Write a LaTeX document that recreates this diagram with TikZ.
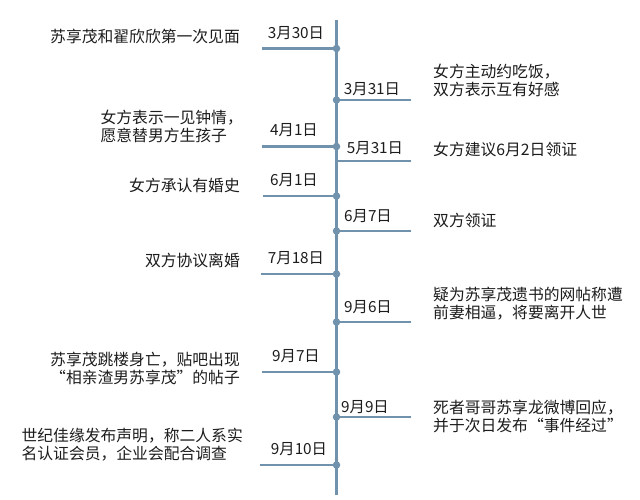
\documentclass[tikz,border=0pt]{standalone}
\definecolor{lineblue}{RGB}{112,146,172}
\definecolor{textgray}{RGB}{28,28,28}
\usepackage{fontspec}
\setmainfont{Noto Sans CJK SC}
\usepackage{tikz}

\newcommand{\datefont}{\fontsize{15.3}{18}\selectfont}
\newcommand{\eventfont}{\fontsize{15.8}{18}\selectfont}

\begin{document}
\begin{tikzpicture}[x=1pt,y=-1pt]

%
% Styles
%
\tikzstyle{timeline}  = [draw=lineblue,line width=2.3pt]
\tikzstyle{branch}    = [draw=lineblue,line width=2.3pt]
\tikzstyle{eventdot}  = [circle,fill=lineblue,inner sep=0pt,minimum size=7.5pt]
\tikzstyle{datelabel} = [font=\datefont,text=textgray,inner sep=0pt]
\tikzstyle{eventtext} = [font=\eventfont,text=textgray,inner sep=0pt]

\useasboundingbox (0,0) rectangle (640,500);

% axis
\coordinate (top) at (336.5,20);
\coordinate (bottom) at (336.5,495);
\draw[timeline] (top) -- (bottom);

% points on the axis and ends of the branches
\coordinate (p1)  at (336.5,48.5);  \coordinate (e1)  at (262,48.5);
\coordinate (p2)  at (336.5,100);   \coordinate (e2)  at (411,100);
\coordinate (p3)  at (336.5,146.5); \coordinate (e3)  at (262,146.5);
\coordinate (p4)  at (336.5,161);   \coordinate (e4)  at (411,161);
\coordinate (p5)  at (336.5,196);   \coordinate (e5)  at (263,196);
\coordinate (p6)  at (336.5,231);   \coordinate (e6)  at (411,231);
\coordinate (p7)  at (336.5,274);   \coordinate (e7)  at (261,274);
\coordinate (p8)  at (336.5,322);   \coordinate (e8)  at (411,322);
\coordinate (p9)  at (336.5,372);   \coordinate (e9)  at (262,372);
\coordinate (p10) at (336.5,417);   \coordinate (e10) at (411,417);
\coordinate (p11) at (336.5,465);   \coordinate (e11) at (260,465);

\foreach \i in {1,...,11}
  \draw[branch] (p\i) -- (e\i);

\foreach \i in {1,2,3,5,6,7,8,9,10,11}
  \node[eventdot] (dot\i) at (p\i) {};

% dates
\node[datelabel] (date1)  at (296,33)  {3月30日};
\node[datelabel] (date2)  at (372,89)  {3月31日};
\node[datelabel] (date3)  at (294,130) {4月1日};
\node[datelabel] (date4)  at (375,148) {5月31日};
\node[datelabel] (date5)  at (294,180) {6月1日};
\node[datelabel] (date6)  at (368,216) {6月7日};
\node[datelabel] (date7)  at (296,258) {7月18日};
\node[datelabel] (date8)  at (368,307) {9月6日};
\node[datelabel] (date9)  at (296,356) {9月7日};
\node[datelabel] (date10) at (365,407) {9月9日};
\node[datelabel] (date11) at (299,449) {9月10日};

% events
\node[eventtext,anchor=east] (ev1) at (240,36) {苏享茂和翟欣欣第一次见面};
\node[eventtext,anchor=west,align=left] (ev2) at (433,80)
  {女方主动约吃饭，\\双方表示互有好感};
\node[eventtext,anchor=east,align=left] (ev3) at (243,126)
  {女方表示一见钟情，\\愿意替男方生孩子};
\node[eventtext,anchor=west] (ev4) at (433,149) {女方建议6月2日领证};
\node[eventtext,anchor=east] (ev5) at (240,185) {女方承认有婚史};
\node[eventtext,anchor=west] (ev6) at (433,220) {双方领证};
\node[eventtext,anchor=east] (ev7) at (240,260) {双方协议离婚};
\node[eventtext,anchor=west,align=left] (ev8) at (433,304)
  {疑为苏享茂遗书的网帖称遭\\前妻相逼，将要离开人世};
\node[eventtext,anchor=east,align=right] (ev9) at (240,368)
  {苏享茂跳楼身亡，贴吧出现\\“相亲渣男苏享茂”的帖子};
\node[eventtext,anchor=west,align=left] (ev10) at (433,416)
  {死者哥哥苏享龙微博回应，\\并于次日发布“事件经过”};
\node[eventtext,anchor=east,align=left] (ev11) at (243,445)
  {世纪佳缘发布声明，称二人系实\\名认证会员，企业会配合调查};

\end{tikzpicture}
\end{document}
